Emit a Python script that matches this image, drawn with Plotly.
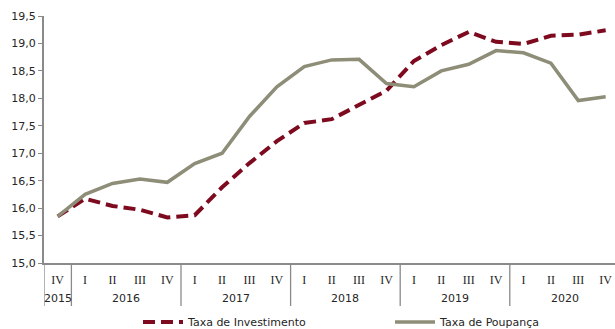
import plotly.graph_objects as go

# Quarterly series, 2015 Q4 to 2020 Q4 (% of GDP)
quarters = ["IV",
            "I", "II", "III", "IV",
            "I", "II", "III", "IV",
            "I", "II", "III", "IV",
            "I", "II", "III", "IV",
            "I", "II", "III", "IV"]
years = ["2015", "2016", "2017", "2018", "2019", "2020"]
quarters_per_year = [1, 4, 4, 4, 4, 4]

taxa_investimento = [15.85, 16.17, 16.04, 15.97, 15.83, 15.87,
                     16.38, 16.82, 17.22, 17.55, 17.62,
                     17.88, 18.14, 18.68, 18.97, 19.21,
                     19.03, 18.99, 19.14, 19.16, 19.24]
taxa_poupanca = [15.85, 16.25, 16.45, 16.53, 16.47, 16.81,
                 17.00, 17.67, 18.21, 18.58, 18.70,
                 18.71, 18.27, 18.21, 18.50, 18.62,
                 18.87, 18.83, 18.64, 17.96, 18.03]

y_ticks = [15.0, 15.5, 16.0, 16.5, 17.0, 17.5, 18.0, 18.5, 19.0, 19.5]

RED = "#7D0A1E"
GREY = "#8E8D78"
AXIS = "#8A8A8A"
TEXT = "#262626"
FONT = "DejaVu Sans"

W, H = 615, 329
M_L, M_R, M_T, M_B = 44, 0, 16, 66
PW = W - M_L - M_R
PH = H - M_T - M_B


def px_x(px):
    """Horizontal pixel position -> paper fraction."""
    return (px - M_L) / PW


def px_y(py):
    """Vertical pixel position -> paper fraction."""
    return (H - M_B - py) / PH


x = list(range(len(quarters)))

series = [
    ("Taxa de Investimento", taxa_investimento, dict(color=RED, width=4, dash="12px,6px"), 143),
    ("Taxa de Poupança", taxa_poupanca, dict(color=GREY, width=3.5), 395),
]

fig = go.Figure()
shapes = []
annotations = []

for name, values, line, lx in series:
    fig.add_trace(go.Scatter(x=x, y=values, mode="lines", name=name,
                             line=line, showlegend=False))
    # legend entry: line sample followed by its label
    shapes.append(dict(type="line", xref="paper", yref="paper",
                       x0=px_x(lx), x1=px_x(lx + 40), y0=px_y(322), y1=px_y(322),
                       line=line))
    annotations.append(dict(x=px_x(lx + 42), y=px_y(322), xref="paper", yref="paper",
                            text=name, showarrow=False, xanchor="left", yanchor="middle",
                            font=dict(family=FONT, size=11, color=TEXT)))

# Year labels and the dividers between years
start = 0
bounds = [-0.5]
for yr, n in zip(years, quarters_per_year):
    center = start + (n - 1) / 2
    annotations.append(dict(
        x=center, y=px_y(298), xref="x", yref="paper", text=yr, showarrow=False,
        yanchor="middle", font=dict(family=FONT, size=11, color=TEXT),
    ))
    start += n
    bounds.append(start - 0.5)
for b in bounds:
    shapes.append(dict(
        type="line", xref="x", yref="paper", x0=b, x1=b, y0=0, y1=px_y(306),
        line=dict(color=AXIS, width=1.3),
    ))

fig.update_layout(
    width=W, height=H,
    margin=dict(l=M_L, r=M_R, t=M_T, b=M_B, autoexpand=False),
    paper_bgcolor="white", plot_bgcolor="white",
    shapes=shapes, annotations=annotations,
    showlegend=False,
    xaxis=dict(
        range=[-0.5, 20.34], tickvals=x, ticktext=quarters,
        showgrid=False, zeroline=False, showline=True,
        linecolor=AXIS, linewidth=2, ticks="outside", ticklen=5,
        tickcolor="rgba(0,0,0,0)",
        tickfont=dict(family="Liberation Serif", size=12, color=TEXT),
    ),
    yaxis=dict(
        range=[15, 19.5], tickvals=y_ticks,
        ticktext=[f"{v:.1f}".replace(".", ",") for v in y_ticks],
        showgrid=False, zeroline=False, showline=True,
        linecolor=AXIS, linewidth=2, ticks="outside", ticklen=4,
        tickcolor=AXIS, tickwidth=1.3,
        tickfont=dict(family=FONT, size=11, color=TEXT),
    ),
)

fig.write_html("out.html")
